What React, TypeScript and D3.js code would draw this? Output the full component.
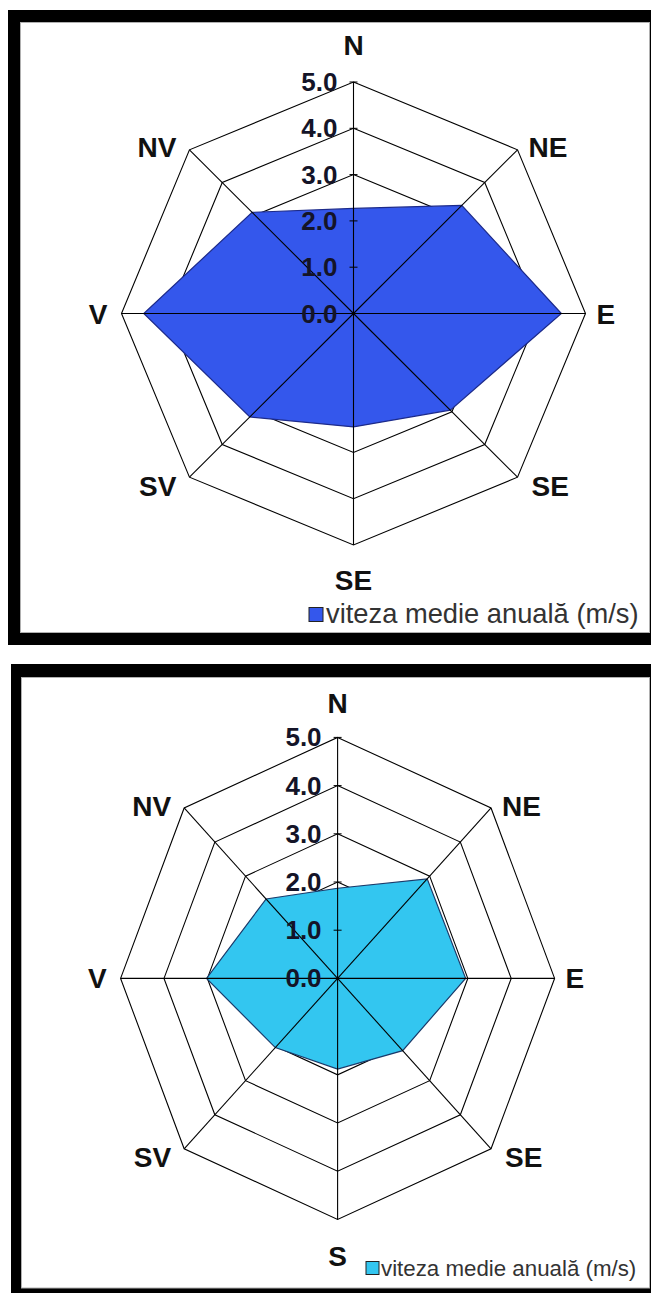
import React from 'react';
import * as d3 from 'd3';

// ---- data ----
const directions1 = ['N', 'NE', 'E', 'SE', 'SE', 'SV', 'V', 'NV'];
const directions2 = ['N', 'NE', 'E', 'SE', 'S', 'SV', 'V', 'NV'];
const speeds1 = [2.27, 3.3, 4.48, 2.95, 2.45, 3.16, 4.52, 3.09];
const speeds2 = [1.87, 2.92, 2.95, 2.12, 1.88, 2.03, 3.02, 2.33];
const tickValues = [0, 1, 2, 3, 4, 5];
const tickLabels = ['0.0', '1.0', '2.0', '3.0', '4.0', '5.0'];
const legendLabel = 'viteza medie anuală (m/s)';

type Cfg = {
  frame: { x: number; y: number; w: number; h: number };
  inner: { x: number; y: number; w: number; h: number };
  cx: number; cy: number; rx: number; ry: number;
  fill: string; stroke: string;
  nGap: number; sGap: number; diagTop: number; diagBot: number;
  legend: { x: number; y: number; s: number; tx: number; ty: number; fs: number };
};

const cfg1: Cfg = {
  frame: { x: 8, y: 10, w: 660, h: 635 },
  inner: { x: 20.5, y: 22.5, w: 629, h: 610 },
  cx: 353.5, cy: 313.5, rx: 232, ry: 231.5,
  fill: '#3457ec', stroke: '#1c2a8a',
  nGap: -27, sGap: 45, diagTop: 7, diagBot: 19,
  legend: { x: 309, y: 607.5, s: 14, tx: 326, ty: 623, fs: 27.3 },
};

const cfg2: Cfg = {
  frame: { x: 11, y: 664, w: 660, h: 640 },
  inner: { x: 21.5, y: 677.5, w: 628, h: 610.5 },
  cx: 337.6, cy: 978.4, rx: 217, ry: 241,
  fill: '#33c6f0', stroke: '#1a3a6a',
  nGap: -24, sGap: 47, diagTop: 8, diagBot: 18,
  legend: { x: 366, y: 1261.5, s: 13, tx: 381, ty: 1276, fs: 22.3 },
};

const FONT = '"Liberation Sans", Arial, sans-serif';

function Radar({ cfg, cats, values }: { cfg: Cfg; cats: string[]; values: number[] }) {
  const n = cats.length;
  const angle = d3.scaleLinear().domain([0, n]).range([0, 2 * Math.PI]);
  const rX = d3.scaleLinear().domain([0, 5]).range([0, cfg.rx]);
  const rY = d3.scaleLinear().domain([0, 5]).range([0, cfg.ry]);
  const pt = (i: number, v: number): [number, number] => [
    cfg.cx + rX(v) * Math.sin(angle(i)),
    cfg.cy - rY(v) * Math.cos(angle(i)),
  ];
  const closed = d3.line().curve(d3.curveLinearClosed);
  const rings = tickValues.filter((v) => v > 0).map((v) => closed(cats.map((_, i) => pt(i, v))) as string);
  const area = closed(values.map((v, i) => pt(i, v))) as string;

  const labelPos = (i: number) => {
    const [vx, vy] = pt(i, 5);
    switch (i) {
      case 0: return { x: vx, y: vy + cfg.nGap, a: 'middle' };
      case 1: return { x: vx + 11, y: vy + cfg.diagTop, a: 'start' };
      case 2: return { x: vx + 11, y: vy + 10, a: 'start' };
      case 3: return { x: vx + 14, y: vy + cfg.diagBot, a: 'start' };
      case 4: return { x: vx, y: vy + cfg.sGap, a: 'middle' };
      case 5: return { x: vx - 13, y: vy + cfg.diagBot, a: 'end' };
      case 6: return { x: vx - 14, y: vy + 10, a: 'end' };
      default: return { x: vx - 13, y: vy + cfg.diagTop, a: 'end' };
    }
  };

  const L = cfg.legend;
  return (
    <g>
      <rect x={cfg.frame.x} y={cfg.frame.y} width={cfg.frame.w} height={cfg.frame.h} fill="#000" />
      <rect x={cfg.inner.x} y={cfg.inner.y} width={cfg.inner.w} height={cfg.inner.h} fill="#fff" stroke="#b0b0b0" strokeWidth={1} />
      {rings.map((d, k) => (
        <path key={k} d={d} fill="none" stroke="#000" strokeWidth={1.1} />
      ))}
      <path d={area} fill={cfg.fill} stroke={cfg.stroke} strokeWidth={1.2} />
      {cats.map((_, i) => {
        const [x, y] = pt(i, 5);
        return <line key={i} x1={cfg.cx} y1={cfg.cy} x2={x} y2={y} stroke="#000" strokeWidth={1.1} />;
      })}
      {tickValues.map((v) => {
        const [x, y] = pt(0, v);
        return <line key={v} x1={x - 4} x2={x + 4} y1={y} y2={y} stroke="#000" strokeWidth={1} />;
      })}
      {tickValues.map((v, k) => {
        const [x, y] = pt(0, v);
        return (
          <text key={v} x={x - 16} y={y + 9} textAnchor="end" fontFamily={FONT} fontWeight="bold" fontSize={26} fill="#141428">
            {tickLabels[k]}
          </text>
        );
      })}
      {cats.map((c, i) => {
        const p = labelPos(i);
        return (
          <text key={i} x={p.x} y={p.y} textAnchor={p.a as any} fontFamily={FONT} fontWeight="bold" fontSize={28} fill="#111">
            {c}
          </text>
        );
      })}
      <rect x={L.x} y={L.y} width={L.s} height={L.s} fill={cfg.fill} stroke="#222" strokeWidth={1} />
      <text x={L.tx} y={L.ty} fontFamily={FONT} fontSize={L.fs} fill="#333">
        {legendLabel}
      </text>
    </g>
  );
}

export default function App() {
  return (
    <svg
      width={651}
      height={1293}
      viewBox="0 0 651 1293"
      style={{ position: 'absolute', left: 0, top: 0, display: 'block', background: '#fff' }}
    >
      <rect x={0} y={0} width={651} height={1293} fill="#fff" />
      <Radar cfg={cfg1} cats={directions1} values={speeds1} />
      <Radar cfg={cfg2} cats={directions2} values={speeds2} />
    </svg>
  );
}
